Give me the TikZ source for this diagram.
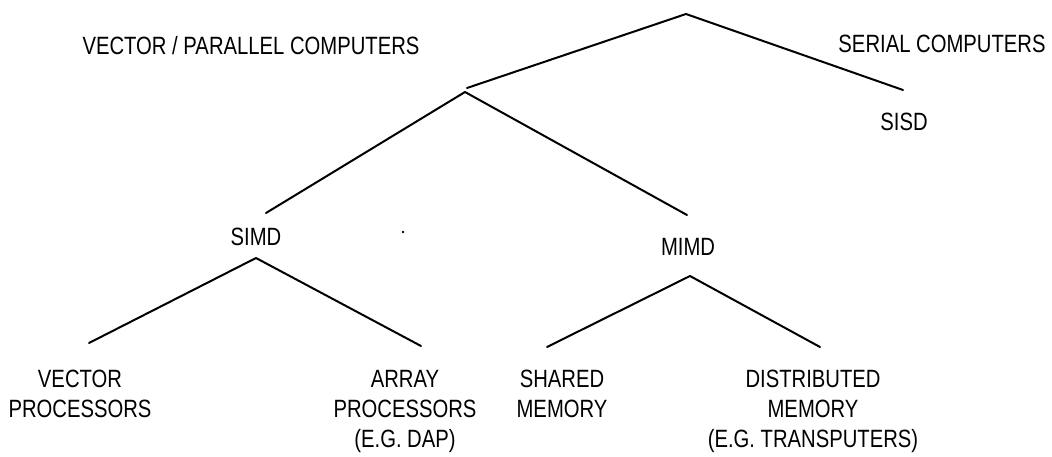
\documentclass[tikz,border=0pt]{standalone}
\usepackage{fontspec}
\setmainfont{Liberation Sans}[FakeStretch=0.81]
\begin{document}
\begin{tikzpicture}[x=1pt,y=-1pt,
  lbl/.style={inner sep=0pt, font=\fontsize{25}{30}\selectfont, align=center},
  branch/.style={draw, line width=2pt, line cap=round, line join=round}]
\useasboundingbox (0,0) rectangle (1052,457);
% labels
\node[lbl] (vpc) at (251,46) {VECTOR / PARALLEL COMPUTERS};
\node[lbl] (sc) at (942,44) {SERIAL COMPUTERS};
\node[lbl] (sisd) at (904,122) {SISD};
\node[lbl] (simd) at (256,237) {SIMD};
\node[lbl] (mimd) at (688,247) {MIMD};
\node[lbl,anchor=north] (vp) at (80,370) {VECTOR\\PROCESSORS};
\node[lbl,anchor=north] (ap) at (405,370) {ARRAY\\PROCESSORS\\(E.G. DAP)};
\node[lbl,anchor=north] (sm) at (562,370) {SHARED\\MEMORY};
\node[lbl,anchor=north] (dm) at (813,370) {DISTRIBUTED\\MEMORY\\(E.G. TRANSPUTERS)};
% junction points and branch ends
\coordinate (root) at (686,14);
\coordinate (jin) at (467,88);
\coordinate (j) at (465,92);
\coordinate (sisdend) at (903,90);
\coordinate (simdend) at (266,213);
\coordinate (mimdend) at (687,215);
\coordinate (simdtop) at (256,258);
\coordinate (vpend) at (89,343);
\coordinate (apend) at (421,346);
\coordinate (mimdtop) at (690,276);
\coordinate (smend) at (547,347);
\coordinate (dmend) at (820,347);
% connectors
\draw[branch] (jin) -- (root) -- (sisdend);
\draw[branch] (simdend) -- (j) -- (mimdend);
\draw[branch] (vpend) -- (simdtop) -- (apend);
\draw[branch] (smend) -- (mimdtop) -- (dmend);
% stray speck
\fill (403,232) circle (1.3);
\end{tikzpicture}
\end{document}
